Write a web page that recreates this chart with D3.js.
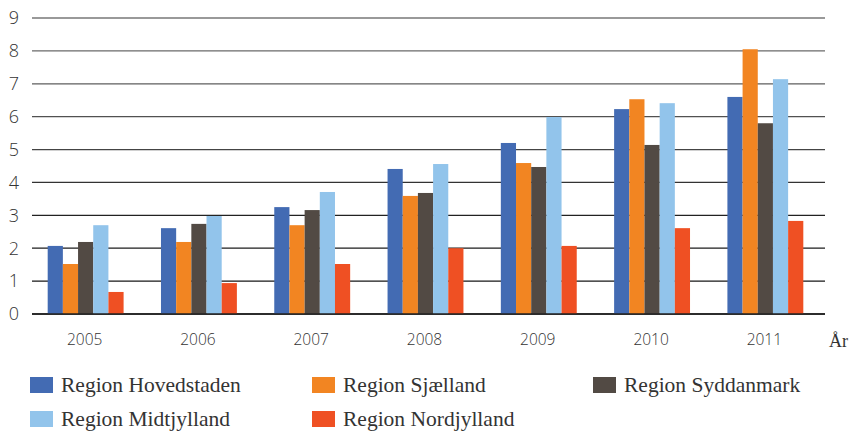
<!DOCTYPE html>
<html>
<head>
<meta charset="utf-8">
<script src="https://cdn.jsdelivr.net/npm/d3@7"></script>
<style>
  body { margin: 0; background: #fff; }
  svg { display: block; }
</style>
</head>
<body>
<svg id="chart" width="850" height="432"></svg>
<script>
const years = ["2005", "2006", "2007", "2008", "2009", "2010", "2011"];
const regions = ["Region Hovedstaden", "Region Sjælland", "Region Syddanmark", "Region Midtjylland", "Region Nordjylland"];
const hovedstaden = [2.07, 2.61, 3.25, 4.41, 5.2, 6.23, 6.6];
const sjaelland = [1.52, 2.19, 2.7, 3.59, 4.59, 6.53, 8.05];
const syddanmark = [2.19, 2.74, 3.16, 3.68, 4.47, 5.14, 5.8];
const midtjylland = [2.7, 2.98, 3.71, 4.56, 5.99, 6.41, 7.14];
const nordjylland = [0.67, 0.94, 1.52, 2.0, 2.07, 2.61, 2.83];
const yTicks = [0, 1, 2, 3, 4, 5, 6, 7, 8, 9];
const colors = ["#436bb3", "#f28522", "#524a44", "#92c4eb", "#ef5023"];

const series = [hovedstaden, sjaelland, syddanmark, midtjylland, nordjylland];

const svg = d3.select("#chart");
const plotLeft = 32, plotRight = 825, plotTop = 18, plotBottom = 314;

const y = d3.scaleLinear().domain([0, 9]).range([plotBottom, plotTop]);

const x0 = d3.scaleBand()
  .domain(years)
  .range([plotLeft - 3, plotRight - 3])
  .paddingInner(0.33)
  .paddingOuter(0.165);

const x1 = d3.scaleBand()
  .domain(regions)
  .range([0, x0.bandwidth()]);

// grid lines, darker near the bottom
const gridColor = d3.scaleLinear().domain([0, 3, 5, 9]).range(["#111", "#222", "#444", "#777"]);

svg.append("g")
  .selectAll("line")
  .data(yTicks)
  .join("line")
  .attr("x1", plotLeft)
  .attr("x2", plotRight)
  .attr("y1", d => y(d))
  .attr("y2", d => y(d))
  .attr("stroke", d => gridColor(d))
  .attr("stroke-width", 1.3);

// y tick labels
svg.append("g")
  .selectAll("text")
  .data(yTicks)
  .join("text")
  .attr("x", 14)
  .attr("y", d => y(d))
  .attr("dy", "0.35em")
  .attr("text-anchor", "middle")
  .attr("font-family", "'Open Sans', sans-serif")
  .attr("font-weight", 300)
  .attr("font-size", 18)
  .attr("fill", "#333")
  .text(d => d);

// bars
const groups = svg.append("g")
  .selectAll("g")
  .data(years)
  .join("g")
  .attr("transform", d => `translate(${x0(d)},0)`);

groups.selectAll("rect")
  .data((yr, i) => regions.map((r, j) => ({ region: r, value: series[j][i], color: colors[j] })))
  .join("rect")
  .attr("x", d => x1(d.region))
  .attr("width", x1.bandwidth())
  .attr("y", d => y(d.value))
  .attr("height", d => y(0) - y(d.value))
  .attr("fill", d => d.color);

// x axis baseline over bars
svg.append("line")
  .attr("x1", plotLeft)
  .attr("x2", plotRight)
  .attr("y1", y(0))
  .attr("y2", y(0))
  .attr("stroke", "#222")
  .attr("stroke-width", 1.5);

// x labels
svg.append("g")
  .selectAll("text")
  .data(years)
  .join("text")
  .attr("x", d => x0(d) + x0.bandwidth() / 2 - 1)
  .attr("y", 345)
  .attr("text-anchor", "middle")
  .attr("font-family", "'Open Sans', sans-serif")
  .attr("font-weight", 300)
  .attr("font-size", 15.5)
  .attr("fill", "#333")
  .text(d => d);

svg.append("text")
  .attr("x", 829)
  .attr("y", 347)
  .attr("font-family", "'Liberation Serif', serif")
  .attr("font-size", 18)
  .attr("fill", "#333")
  .text("År");

// legend
const legendPos = [
  { x: 30, y: 377 }, { x: 312, y: 377 }, { x: 593, y: 377 },
  { x: 30, y: 411 }, { x: 312, y: 411 }
];

const legend = svg.append("g")
  .selectAll("g")
  .data(regions)
  .join("g")
  .attr("transform", (d, i) => `translate(${legendPos[i].x},${legendPos[i].y})`);

legend.append("rect")
  .attr("width", 23)
  .attr("height", 16)
  .attr("fill", (d, i) => colors[i]);

legend.append("text")
  .attr("x", 31)
  .attr("y", 15)
  .attr("font-family", "'Liberation Serif', serif")
  .attr("font-size", 21.5)
  .attr("fill", "#333")
  .text(d => d);
</script>
</body>
</html>
